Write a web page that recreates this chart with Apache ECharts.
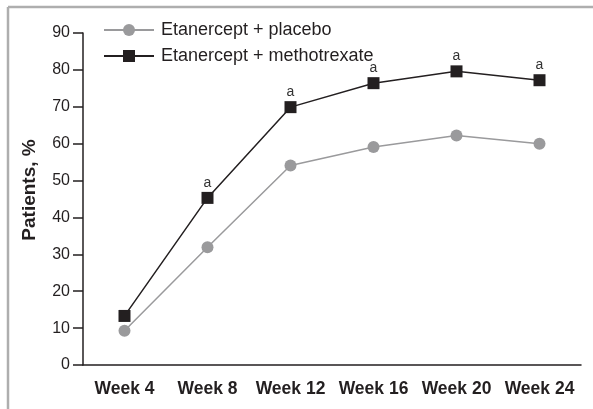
<!DOCTYPE html>
<html>
<head>
<meta charset="utf-8">
<script src="https://cdn.jsdelivr.net/npm/echarts@6/dist/echarts.min.js"></script>
<style>
  html, body { margin: 0; padding: 0; background: #ffffff; }
  #chart { width: 593px; height: 409px; }
</style>
</head>
<body>
<div id="chart"></div>
<script>
// Response rates by visit
const weeks = ['Week 4', 'Week 8', 'Week 12', 'Week 16', 'Week 20', 'Week 24'];
const placebo = [9.3, 31.9, 54.1, 59.1, 62.2, 60.0];
const methotrexate = [13.3, 45.3, 69.9, 76.4, 79.6, 77.2];
// Significance markers shown above the combination arm
const sigMarks = ['', 'a', 'a', 'a', 'a', 'a'];
const yTicks = [0, 10, 20, 30, 40, 50, 60, 70, 80, 90];

const FONT = 'Liberation Sans, Arial, sans-serif';
const GREY = '#9a9a9c';
const DARK = '#231f20';

const chart = echarts.init(document.getElementById('chart'), null, { renderer: 'canvas' });

chart.setOption({
  animation: false,
  backgroundColor: '#ffffff',
  graphic: [
    { type: 'line', shape: { x1: 8, y1: 7, x2: 593, y2: 7 }, style: { stroke: '#aeaeae', lineWidth: 2.5 } },
    { type: 'line', shape: { x1: 8, y1: 7, x2: 8, y2: 409 }, style: { stroke: '#aeaeae', lineWidth: 2.5 } }
  ],
  legend: {
    orient: 'vertical',
    left: 98,
    top: 16,
    itemWidth: 50,
    itemHeight: 15,
    itemGap: 8,
    textStyle: { fontFamily: FONT, fontSize: 18, color: DARK, lineHeight: 18, padding: [0, 0, 0, 2] },
    data: ['Etanercept + placebo', 'Etanercept + methotrexate']
  },
  grid: { left: 83, right: 12, top: 33, bottom: 44, containLabel: false },
  xAxis: {
    type: 'category',
    data: weeks,
    boundaryGap: true,
    axisLine: { lineStyle: { color: DARK, width: 1.5 } },
    axisTick: { alignWithLabel: true, length: 10, lineStyle: { color: DARK, width: 1.5 } },
    axisLabel: { interval: 0, fontFamily: FONT, fontSize: 17.5, fontWeight: 'bold', color: DARK, margin: 15 },
    splitLine: { show: false }
  },
  yAxis: {
    type: 'value',
    min: yTicks[0],
    max: yTicks[yTicks.length - 1],
    interval: 10,
    name: 'Patients, %',
    nameLocation: 'middle',
    nameGap: 44,
    nameRotate: 90,
    nameTextStyle: { fontFamily: FONT, fontSize: 19, fontWeight: 'bold', color: DARK, padding: [0, 0, 0, 18] },
    axisLine: { show: true, lineStyle: { color: DARK, width: 1.5 } },
    axisTick: { show: true, inside: false, length: 10, lineStyle: { color: DARK, width: 1.5 } },
    axisLabel: { fontFamily: FONT, fontSize: 16, color: DARK, margin: 13 },
    splitLine: { show: false }
  },
  series: [
    {
      name: 'Etanercept + placebo',
      type: 'line',
      data: placebo,
      symbol: 'circle',
      symbolSize: 12,
      itemStyle: { color: GREY },
      lineStyle: { color: GREY, width: 1.5 },
      z: 2
    },
    {
      name: 'Etanercept + methotrexate',
      type: 'line',
      data: methotrexate,
      symbol: 'rect',
      symbolSize: 12,
      itemStyle: { color: DARK },
      lineStyle: { color: DARK, width: 1.5 },
      label: {
        show: true,
        position: 'top',
        distance: 2,
        fontFamily: FONT,
        fontSize: 14,
        color: '#333333',
        formatter: p => sigMarks[p.dataIndex]
      },
      z: 3
    }
  ]
});
</script>
</body>
</html>
